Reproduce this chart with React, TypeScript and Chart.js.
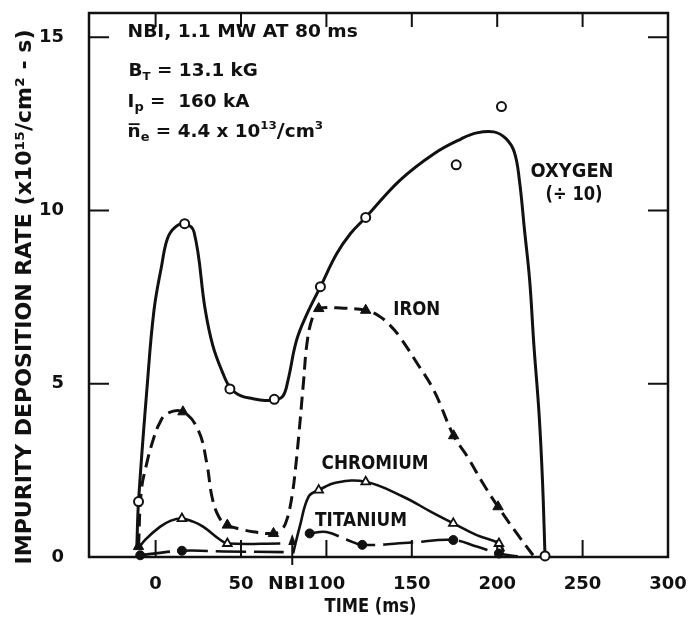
import React, { useEffect, useRef } from "react";
import { Chart, registerables } from "chart.js";

Chart.register(...registerables);

// ---------- data ----------
const xTickStep = 50;
const yTickStep = 5;
const xMin = -39;
const xMax = 300;
const yMin = 0;
const yMax = 15.7;

// OXYGEN (÷10) – measured points (open circles)
const oxygenMarkX = [-10, 17, 43.5, 69.5, 96.5, 123, 176, 202.5, 228];
const oxygenMarkY = [1.6, 9.62, 4.85, 4.55, 7.8, 9.8, 11.32, 13.0, 0.03];
// OXYGEN – hand-drawn fitted curve
const oxygenCurveX = [-11, -10, -5, -1, 3.5, 7, 11.5, 17, 22.5, 29, 33.5, 39, 44, 50, 57, 64, 69.5, 74.5, 77.5, 82.5, 88.5, 96.5, 106, 114, 123, 143, 163, 179, 188, 198, 205, 210, 213, 216, 219, 221.5, 224.5, 226.5, 228];
const oxygenCurveY = [0.3, 1.6, 4.9, 7.1, 8.4, 9.2, 9.52, 9.62, 9.38, 7.15, 6.1, 5.35, 4.86, 4.65, 4.57, 4.52, 4.53, 4.64, 5.1, 6.25, 7.0, 7.8, 8.75, 9.33, 9.8, 10.87, 11.64, 12.07, 12.24, 12.27, 12.08, 11.69, 10.87, 9.43, 7.99, 6.1, 4.14, 2.22, 0.03];

// IRON – measured points (filled triangles)
const ironMarkX = [-10, 16, 42, 69, 95.5, 123, 174.5, 200.5];
const ironMarkY = [0.3, 4.19, 0.92, 0.68, 7.17, 7.12, 3.5, 1.45];
// IRON – dashed curve
const ironCurveX = [-10, -8.4, -5.2, -1.5, 2.3, 6.6, 16, 25, 30, 33, 37, 42, 50, 57, 69, 74, 77, 80, 82, 84, 86.5, 89, 92.5, 95.5, 110, 123, 131, 137, 143, 153, 163, 174.5, 182.5, 192, 200.5, 210, 221];
const ironCurveY = [0.3, 1.9, 2.7, 3.37, 3.86, 4.14, 4.19, 3.66, 2.7, 1.74, 1.16, 0.92, 0.8, 0.73, 0.68, 0.8, 1.1, 1.8, 2.6, 3.6, 5.0, 6.3, 7.0, 7.17, 7.18, 7.12, 6.95, 6.7, 6.35, 5.6, 4.8, 3.5, 2.9, 2.1, 1.45, 0.78, 0.05];

// CHROMIUM – measured points (open triangles)
const chromiumMarkX = [15.4, 42, 95.5, 123, 174.3, 201];
const chromiumMarkY = [1.11, 0.39, 1.93, 2.17, 0.97, 0.39];
// CHROMIUM – curve (null = break at NBI)
const chromiumCurveX = [-10, -6, 2.5, 9, 15.4, 22, 28, 38, 42, 73, 77, 80.5, 84.5, 89.6, 95.5, 106, 123, 145, 161, 174.3, 188, 201, 204];
const chromiumCurveY = [0.25, 0.5, 0.87, 1.05, 1.11, 1.02, 0.87, 0.49, 0.39, 0.39, null, 0.1, 0.9, 1.74, 1.93, 2.15, 2.17, 1.74, 1.31, 0.97, 0.63, 0.39, 0.15];

// TITANIUM – measured points (filled circles)
const titaniumMarkX = [-9, 15.4, 90.2, 121, 174.3, 201];
const titaniumMarkY = [0.05, 0.18, 0.68, 0.35, 0.49, 0.1];
// TITANIUM – long-dash curve
const titaniumCurveX = [-9, 15.4, 40, 75, 80, 90.2, 100, 112, 121, 150, 174.3, 188, 201, 212];
const titaniumCurveY = [0.05, 0.18, 0.16, 0.14, null, 0.68, 0.72, 0.5, 0.35, 0.42, 0.49, 0.3, 0.1, 0.02];

const nbiTime = 80;

// ---------- helpers ----------
const INK = "#111";
const FONT = "'DejaVu Sans', sans-serif";

function zip(xs: number[], ys: (number | null)[]) {
  return xs.map((x, i) => ({ x, y: ys[i] }));
}

function drawFit(
  ctx: CanvasRenderingContext2D,
  text: string,
  cx: number,
  cy: number,
  size: number,
  targetW: number,
  rot = 0
) {
  ctx.save();
  ctx.font = `bold ${size}px ${FONT}`;
  const w = ctx.measureText(text).width;
  const sx = targetW ? targetW / w : 1;
  ctx.translate(cx, cy);
  if (rot) ctx.rotate(rot);
  ctx.scale(sx, 1);
  ctx.textAlign = "center";
  ctx.textBaseline = "middle";
  ctx.fillStyle = INK;
  ctx.fillText(text, 0, 0);
  ctx.restore();
}

type Seg = { t: string; s: number; dy?: number; bar?: boolean };

function drawSegLine(
  ctx: CanvasRenderingContext2D,
  segs: Seg[],
  x0: number,
  baseline: number,
  sx: number
) {
  ctx.save();
  ctx.translate(x0, baseline);
  ctx.scale(sx, 1);
  ctx.textAlign = "left";
  ctx.textBaseline = "alphabetic";
  ctx.fillStyle = INK;
  ctx.strokeStyle = INK;
  let x = 0;
  for (const sg of segs) {
    ctx.font = `bold ${sg.s}px ${FONT}`;
    const w = ctx.measureText(sg.t).width;
    ctx.fillText(sg.t, x, sg.dy || 0);
    if (sg.bar) {
      ctx.lineWidth = 1.8;
      ctx.beginPath();
      ctx.moveTo(x + 1, -sg.s * 0.78);
      ctx.lineTo(x + w - 1, -sg.s * 0.78);
      ctx.stroke();
    }
    x += w;
  }
  ctx.restore();
}

const decorPlugin = {
  id: "decor",
  beforeDatasetsDraw(chart: any) {
    const { ctx, chartArea: a, scales } = chart;
    const xs = scales.x;
    const ys = scales.y;
    ctx.save();
    ctx.strokeStyle = INK;
    // frame
    ctx.lineWidth = 2.5;
    ctx.strokeRect(a.left, a.top, a.right - a.left, a.bottom - a.top);
    // inner ticks
    ctx.lineWidth = 2;
    ctx.beginPath();
    for (const t of xs.ticks) {
      if (t.value <= xMin || t.value >= xMax) continue;
      const px = xs.getPixelForValue(t.value);
      ctx.moveTo(px, a.bottom);
      ctx.lineTo(px, a.bottom - 17);
      ctx.moveTo(px, a.top);
      ctx.lineTo(px, a.top + 14);
    }
    for (const t of ys.ticks) {
      if (t.value <= yMin || t.value >= yMax) continue;
      const py = ys.getPixelForValue(t.value);
      ctx.moveTo(a.left, py);
      ctx.lineTo(a.left + 20, py);
      ctx.moveTo(a.right, py);
      ctx.lineTo(a.right - 20, py);
    }
    ctx.stroke();
    ctx.restore();
  },
  afterDraw(chart: any) {
    const { ctx, chartArea: a, scales } = chart;
    const xs = scales.x;
    const ys = scales.y;
    const X = (v: number) => xs.getPixelForValue(v);
    const Y = (v: number) => ys.getPixelForValue(v);

    // NBI arrow
    const ax = X(nbiTime);
    ctx.save();
    ctx.strokeStyle = INK;
    ctx.fillStyle = INK;
    ctx.lineWidth = 2;
    ctx.beginPath();
    ctx.moveTo(ax, a.bottom + 8);
    ctx.lineTo(ax, a.bottom - 14);
    ctx.stroke();
    ctx.beginPath();
    ctx.moveTo(ax, a.bottom - 23);
    ctx.lineTo(ax - 4, a.bottom - 12);
    ctx.lineTo(ax + 4, a.bottom - 12);
    ctx.closePath();
    ctx.fill();
    ctx.restore();
    drawFit(ctx, "NBI", X(76.6), a.bottom + 27, 18, 37);

    // series labels
    drawFit(ctx, "OXYGEN", X(243.8), Y(11.12), 19, 83);
    drawFit(ctx, "(÷ 10)", X(245), Y(10.44), 19, 57);
    drawFit(ctx, "IRON", X(152.9), Y(7.14), 19, 47);
    drawFit(ctx, "CHROMIUM", X(128.5), Y(2.69), 19, 107);
    drawFit(ctx, "TITANIUM", X(120.3), Y(1.05), 19, 92);

    // axis titles
    drawFit(ctx, "TIME (ms)", (a.left + a.right) / 2 - 8, a.bottom + 50, 19, 92);
    drawFit(
      ctx,
      "IMPURITY DEPOSITION RATE (x10\u00b9\u2075/cm\u00b2 - s)",
      26,
      (a.top + a.bottom) / 2 + 12,
      21,
      535,
      -Math.PI / 2
    );

    // conditions text block
    const x0 = X(-16.4);
    const sx = 1.08;
    drawSegLine(ctx, [{ t: "NBI, 1.1 MW AT 80 ms", s: 17 }], x0, Y(15.0), 1.095);
    drawSegLine(
      ctx,
      [
        { t: "B", s: 17 },
        { t: "T", s: 11, dy: 4 },
        { t: " = 13.1 kG", s: 17 },
      ],
      x0 + 1,
      Y(13.87),
      sx
    );
    drawSegLine(
      ctx,
      [
        { t: "I", s: 17 },
        { t: "p", s: 12, dy: 4 },
        { t: " =  160 kA", s: 17 },
      ],
      x0,
      Y(12.98),
      sx
    );
    drawSegLine(
      ctx,
      [
        { t: "n", s: 17, bar: true },
        { t: "e", s: 12, dy: 4 },
        { t: " = 4.4 x 10", s: 17 },
        { t: "13", s: 11, dy: -8 },
        { t: "/", s: 20 },
        { t: "cm", s: 17 },
        { t: "3", s: 11, dy: -8 },
      ],
      x0,
      Y(12.11),
      sx
    );
  },
};

export default function App() {
  const ref = useRef<HTMLCanvasElement | null>(null);

  useEffect(() => {
    document.body.style.margin = "0";
    if (!ref.current) return;
    const tickFont = { family: FONT, size: 18, weight: "bold" as const };
    const curve = (data: any, extra: any) => ({
      data,
      borderColor: INK,
      backgroundColor: INK,
      pointRadius: 0,
      fill: false,
      tension: 0.4,
      spanGaps: false,
      clip: false,
      order: 2,
      ...extra,
    });
    const marks = (data: any, extra: any) => ({
      data,
      showLine: false,
      borderColor: INK,
      pointBorderColor: INK,
      clip: false,
      order: 0,
      ...extra,
    });

    const chart = new Chart(ref.current, {
      type: "line",
      data: {
        datasets: [
          curve(zip(oxygenCurveX, oxygenCurveY), { label: "Oxygen curve", borderWidth: 3 }),
          curve(zip(ironCurveX, ironCurveY), { label: "Iron curve", borderWidth: 3, borderDash: [13, 7] }),
          curve(zip(chromiumCurveX, chromiumCurveY), { label: "Chromium curve", borderWidth: 2.6 }),
          curve(zip(titaniumCurveX, titaniumCurveY), { label: "Titanium curve", borderWidth: 2.6, borderDash: [30, 8] }),
          marks(zip(oxygenMarkX, oxygenMarkY), {
            label: "Oxygen",
            pointStyle: "circle",
            pointRadius: 4.5,
            pointBorderWidth: 2,
            pointBackgroundColor: "#fff",
          }),
          marks(zip(ironMarkX, ironMarkY), {
            label: "Iron",
            pointStyle: "triangle",
            pointRadius: 6,
            pointBorderWidth: 1,
            pointBackgroundColor: INK,
          }),
          marks(zip(chromiumMarkX, chromiumMarkY), {
            label: "Chromium",
            pointStyle: "triangle",
            pointRadius: 5,
            pointBorderWidth: 1.8,
            pointBackgroundColor: "#fff",
          }),
          marks(zip(titaniumMarkX, titaniumMarkY), {
            label: "Titanium",
            pointStyle: "circle",
            pointRadius: 4.5,
            pointBorderWidth: 1,
            pointBackgroundColor: INK,
          }),
        ] as any,
      },
      options: {
        responsive: false,
        animation: false,
        devicePixelRatio: 1,
        layout: { padding: { top: 13, right: 22, left: 0, bottom: 0 } },
        plugins: { legend: { display: false }, tooltip: { enabled: false } },
        scales: {
          x: {
            type: "linear",
            min: xMin,
            max: xMax,
            grid: { display: false },
            border: { display: false },
            afterFit: (s: any) => {
              s.height = 63;
              s.paddingLeft = 0;
              s.paddingRight = 0;
            },
            ticks: {
              stepSize: xTickStep,
              includeBounds: false,
              autoSkip: false,
              maxRotation: 0,
              color: INK,
              font: tickFont,
              padding: 9,
            },
          },
          y: {
            type: "linear",
            min: yMin,
            max: yMax,
            grid: { display: false },
            border: { display: false },
            afterFit: (s: any) => {
              s.width = 89;
              s.paddingTop = 0;
              s.paddingBottom = 0;
            },
            ticks: {
              stepSize: yTickStep,
              includeBounds: false,
              color: INK,
              font: tickFont,
              padding: 17,
            },
          },
        },
      } as any,
      plugins: [decorPlugin],
    });
    return () => chart.destroy();
  }, []);

  return (
    <div style={{ width: 690, height: 620, background: "#fff" }}>
      <canvas ref={ref} width={690} height={620} style={{ display: "block" }} />
    </div>
  );
}
